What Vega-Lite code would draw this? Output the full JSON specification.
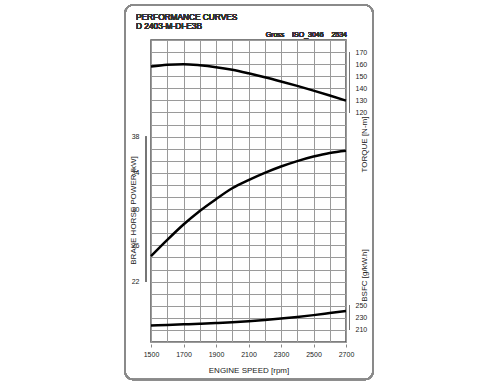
{
  "$schema": "https://vega.github.io/schema/vega-lite/v6.json",
  "width": 195,
  "height": 302,
  "autosize": {"type": "none"},
  "padding": {"left": 151, "top": 40, "right": 154, "bottom": 42},
  "background": "white",
  "config": {
    "font": "Liberation Sans",
    "view": {"stroke": "#555", "strokeWidth": 1.5},
    "axis": {"labelFontSize": 7, "labelColor": "#222", "titleFontSize": 8, "titleFontWeight": "normal", "titleColor": "#222", "labelFont": "Liberation Sans", "titleFont": "Liberation Sans", "labelOverlap": false, "gridColor": "#9a9a9a", "gridOpacity": 1, "gridWidth": 1}
  },
  "data": {
    "values": [
      {"rpm": 1500, "torque": 158.0, "power": 24.8, "bsfc": 217.5},
      {"rpm": 1600, "torque": 159.6, "power": 26.6, "bsfc": 218.3},
      {"rpm": 1700, "torque": 160.0, "power": 28.3, "bsfc": 219.2},
      {"rpm": 1800, "torque": 159.1, "power": 29.8, "bsfc": 220.2},
      {"rpm": 1900, "torque": 157.5, "power": 31.1, "bsfc": 221.4},
      {"rpm": 2000, "torque": 155.3, "power": 32.3, "bsfc": 222.8},
      {"rpm": 2100, "torque": 152.4, "power": 33.2, "bsfc": 224.5},
      {"rpm": 2200, "torque": 149.2, "power": 34.0, "bsfc": 226.5},
      {"rpm": 2300, "torque": 145.7, "power": 34.7, "bsfc": 228.8},
      {"rpm": 2400, "torque": 142.0, "power": 35.3, "bsfc": 231.5},
      {"rpm": 2500, "torque": 138.1, "power": 35.8, "bsfc": 234.5},
      {"rpm": 2600, "torque": 134.0, "power": 36.2, "bsfc": 238.0},
      {"rpm": 2700, "torque": 129.8, "power": 36.45, "bsfc": 241.5}
    ]
  },
  "layer": [
    {
      "layer": [
        {
          "mark": {"type": "rect", "fill": "transparent", "stroke": "#8a8a8a", "strokeWidth": 1.5, "cornerRadius": 8},
          "encoding": {
            "x": {"datum": 1340, "type": "quantitative", "scale": {"domain": [1500, 2700], "nice": false, "zero": false}},
            "x2": {"datum": 2866},
            "y": {"datum": 208.9, "type": "quantitative", "scale": {"domain": [-70, 180], "nice": false, "zero": false}},
            "y2": {"datum": -101}
          }
        },
        {
          "mark": {"type": "line", "color": "black", "strokeWidth": 2.5, "interpolate": "monotone"},
          "encoding": {
            "x": {
              "field": "rpm",
              "type": "quantitative",
              "scale": {"domain": [1500, 2700], "nice": false, "zero": false},
              "axis": {
                "title": "ENGINE SPEED [rpm]",
                "values": [1500, 1600, 1700, 1800, 1900, 2000, 2100, 2200, 2300, 2400, 2500, 2600, 2700],
                "tickCount": 100,
                "format": "d",
                "labelExpr": "(datum.value - 1500) % 200 == 0 ? datum.label : ''",
                "labelFlush": false,
                "labelOverlap": false,
                "grid": true,
                "domain": false,
                "offset": 2,
                "tickSize": 3,
                "tickColor": {"condition": {"test": "(datum.value - 1500) % 200 == 0", "value": "#888"}, "value": "transparent"},
                "labelPadding": 3,
                "titlePadding": 9
              }
            },
            "y": {
              "field": "torque",
              "type": "quantitative",
              "scale": {"domain": [-70, 180], "nice": false, "zero": false},
              "axis": {
                "orient": "right",
                "title": "TORQUE [N-m]",
                "values": [-70, -60, -50, -40, -30, -20, -10, 0, 10, 20, 30, 40, 50, 60, 70, 80, 90, 100, 110, 120, 130, 140, 150, 160, 170, 180],
                "tickCount": 100,
                "format": "d",
                "labelExpr": "datum.value >= 120 && datum.value <= 170 ? datum.label : ''",
                "labelOverlap": false,
                "grid": true,
                "domain": false,
                "ticks": false,
                "labelPadding": 9,
                "labelFlush": false,
                "labelAlign": "left",
                "titleAngle": -90,
                "titleAlign": "center",
                "titleBaseline": "alphabetic",
                "titleX": 20.5,
                "titleY": 104
              }
            }
          }
        },
        {
          "mark": {"type": "rule", "color": "#777", "strokeWidth": 1, "xOffset": 3.5},
          "encoding": {
            "x": {"datum": 2700, "type": "quantitative"},
            "y": {"datum": 120, "type": "quantitative"},
            "y2": {"datum": 170}
          }
        },
        {
          "mark": {"type": "text", "text": "PERFORMANCE CURVES", "align": "left", "baseline": "alphabetic", "fontSize": 8.3, "color": "#333", "dx": -15},
          "encoding": {
            "x": {"datum": 1500, "type": "quantitative"},
            "y": {"datum": 196.5, "type": "quantitative"}
          }
        },
        {
          "mark": {"type": "text", "text": "D 2403-M-DI-E3B", "align": "left", "baseline": "alphabetic", "fontSize": 8.3, "color": "#333", "dx": -15},
          "encoding": {
            "x": {"datum": 1500, "type": "quantitative"},
            "y": {"datum": 188.7, "type": "quantitative"}
          }
        },
        {
          "mark": {"type": "text", "text": "Gross\u00a0\u00a0\u00a0\u00a0ISO_3046\u00a0\u00a0\u00a0\u00a02534", "align": "right", "baseline": "alphabetic", "fontSize": 7, "color": "#333", "dx": 1},
          "encoding": {
            "x": {"datum": 2700, "type": "quantitative"},
            "y": {"datum": 182.7, "type": "quantitative"}
          }
        }
      ]
    },
    {
      "layer": [
        {
          "mark": {"type": "line", "color": "black", "strokeWidth": 2.5, "interpolate": "monotone"},
          "encoding": {
            "x": {"field": "rpm", "type": "quantitative"},
            "y": {
              "field": "power",
              "type": "quantitative",
              "scale": {"domain": [15.3333, 48.6667], "nice": false, "zero": false},
              "axis": {
                "orient": "left",
                "title": "BRAKE HORSE POWER [kW]",
                "values": [22, 26, 30, 34, 38],
                "tickCount": 100,
                "format": "d",
                "labelOverlap": false,
                "grid": false,
                "domain": false,
                "ticks": false,
                "labelPadding": 12,
                "labelFlush": false,
                "titleAngle": -90,
                "titleAlign": "center",
                "titleBaseline": "alphabetic",
                "titleX": -15.5,
                "titleY": 170
              }
            }
          }
        },
        {
          "mark": {"type": "rule", "color": "#777", "strokeWidth": 1, "xOffset": -5},
          "encoding": {
            "x": {"datum": 1500, "type": "quantitative"},
            "y": {"datum": 22, "type": "quantitative"},
            "y2": {"datum": 38}
          }
        }
      ]
    },
    {
      "layer": [
        {
          "mark": {"type": "line", "color": "black", "strokeWidth": 2.5, "interpolate": "monotone"},
          "encoding": {
            "x": {"field": "rpm", "type": "quantitative"},
            "y": {
              "field": "bsfc",
              "type": "quantitative",
              "scale": {"domain": [190, 690], "nice": false, "zero": false},
              "axis": {
                "orient": "right",
                "title": "BSFC [g/kW.h]",
                "values": [210, 230, 250],
                "tickCount": 100,
                "format": "d",
                "labelOverlap": false,
                "grid": false,
                "domain": false,
                "ticks": false,
                "labelPadding": 9,
                "labelFlush": false,
                "labelAlign": "left",
                "titleAngle": -90,
                "titleAlign": "center",
                "titleBaseline": "alphabetic",
                "titleX": 20.5,
                "titleY": 235
              }
            }
          }
        },
        {
          "mark": {"type": "rule", "color": "#777", "strokeWidth": 1, "xOffset": 3.5},
          "encoding": {
            "x": {"datum": 2700, "type": "quantitative"},
            "y": {"datum": 210, "type": "quantitative"},
            "y2": {"datum": 250}
          }
        }
      ]
    }
  ],
  "resolve": {"scale": {"y": "independent"}}
}
